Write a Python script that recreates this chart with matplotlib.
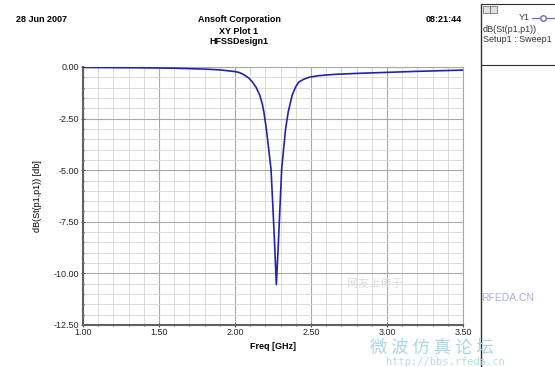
import matplotlib
matplotlib.use("Agg")
import matplotlib.pyplot as plt
from matplotlib.ticker import MultipleLocator, FormatStrFormatter
from matplotlib.lines import Line2D
from matplotlib.patches import Rectangle

plt.rcParams['font.family'] = ['Liberation Sans', 'Noto Sans CJK SC', 'DejaVu Sans']

freq_ghz = [1.00, 1.20, 1.40, 1.60, 1.80, 1.90, 1.95, 2.00, 2.03, 2.06, 2.09,
            2.115, 2.14, 2.163, 2.18, 2.19, 2.206, 2.219, 2.237, 2.25, 2.262,
            2.272, 2.285, 2.297, 2.307, 2.322, 2.333, 2.35, 2.376, 2.40, 2.42,
            2.45, 2.486, 2.55, 2.65, 2.80, 3.00, 3.20, 3.50]
s11_db = [-0.02, -0.03, -0.04, -0.06, -0.10, -0.14, -0.18, -0.22, -0.27, -0.38, -0.53,
          -0.73, -1.00, -1.37, -1.80, -2.18, -2.99, -3.80, -4.95, -6.90, -8.80,
          -10.55, -8.60, -6.60, -4.95, -3.80, -3.00, -2.18, -1.37, -0.95, -0.73,
          -0.60, -0.50, -0.42, -0.36, -0.31, -0.26, -0.21, -0.15]

x_range = (1.0, 3.5)
y_range = (-12.5, 0.0)

fig = plt.figure(figsize=(5.55, 3.67), dpi=100)
W, H = 555, 367
ax = fig.add_axes([83 / W, 1 - 325 / H, 380 / W, 258 / H])

ax.plot(freq_ghz, s11_db, color='#2222b0', lw=1.2, zorder=3)
ax.set_xlim(*x_range)
ax.set_ylim(*y_range)

ax.xaxis.set_major_locator(MultipleLocator(0.5))
ax.xaxis.set_minor_locator(MultipleLocator(0.1))
ax.yaxis.set_major_locator(MultipleLocator(2.5))
ax.yaxis.set_minor_locator(MultipleLocator(0.5))
ax.xaxis.set_major_formatter(FormatStrFormatter('%.2f'))
ax.yaxis.set_major_formatter(FormatStrFormatter('%.2f'))

ax.grid(which='major', color='#a8a8a8', lw=0.8, zorder=1)
ax.grid(which='minor', color='#d6d6d6', lw=0.6, zorder=0)
ax.set_axisbelow(True)

ax.tick_params(which='both', direction='inout', colors='#555555', labelcolor='#222222',
               labelsize=6.5, length=3, width=0.8, pad=1)
ax.tick_params(which='minor', length=2)
for side in ['left', 'bottom']:
    ax.spines[side].set_color('#606060')
    ax.spines[side].set_linewidth(1.5)
for side in ['top', 'right']:
    ax.spines[side].set_color('#a8a8a8')
    ax.spines[side].set_linewidth(0.8)

ax.set_xlabel('Freq [GHz]', fontsize=6.5, fontweight='bold', labelpad=3)
ax.set_ylabel('dB(St(p1,p1)) [db]', fontsize=6.5, labelpad=9)

# Header texts
fig.text(16 / W, 1 - 20 / H, '28 Jun 2007', fontsize=6.5, fontweight='bold', va='center', ha='left')
fig.text(239 / W, 1 - 20 / H, 'Ansoft Corporation', fontsize=6.5, fontweight='bold', va='center', ha='center')
fig.text(239 / W, 1 - 31 / H, 'XY Plot 1', fontsize=6.5, fontweight='bold', va='center', ha='center')
fig.text(239 / W, 1 - 42 / H, 'HFSSDesign1', fontsize=6.5, fontweight='bold', va='center', ha='center')
fig.text(462 / W, 1 - 20 / H, '08:21:44', fontsize=6.5, fontweight='bold', va='center', ha='right')

# Right legend panel
fig.add_artist(Line2D([481 / W, 481 / W], [0, 1 - 4 / H], transform=fig.transFigure, color='#303030', lw=1.0))
fig.add_artist(Line2D([481 / W, 1], [1 - 4 / H, 1 - 4 / H], transform=fig.transFigure, color='#303030', lw=0.8))
fig.add_artist(Line2D([481 / W, 1], [1 - 65 / H, 1 - 65 / H], transform=fig.transFigure, color='#303030', lw=0.8))
for bx in (483, 490):
    fig.add_artist(Rectangle((bx / W, 1 - 13 / H), 7 / W, 7 / H, transform=fig.transFigure,
                             facecolor='#e0e0e0', edgecolor='#606060', lw=0.5))
fig.text(530 / W, 1 - 18 / H, 'Y1', fontsize=6.5, va='center', ha='right', color='#333333')
fig.add_artist(Line2D([532 / W, 555 / W], [1 - 18 / H, 1 - 18 / H], transform=fig.transFigure,
                      color='#6a6ac0', lw=0.9))
fig.add_artist(Line2D([543 / W], [1 - 18 / H], transform=fig.transFigure, color='#6a6ac0',
                      marker='o', markersize=4, markerfacecolor='white', lw=0))
fig.text(483 / W, 1 - 29 / H, 'dB(St(p1,p1))', fontsize=6.5, va='center', ha='left', color='#333333')
fig.text(483 / W, 1 - 40 / H, 'Setup1 : Sweep1', fontsize=6.5, va='center', ha='left', color='#333333')

# Watermark
fig.text(375 / W, 1 - 284 / H, '网友上传于', fontsize=8, color='#dcdcdc', va='center', ha='center',
         family=['Noto Sans CJK SC', 'DejaVu Sans'])
fig.text(508 / W, 1 - 298 / H, 'RFEDA.CN', fontsize=7.5, color='#a9aedb', va='center', ha='center')
fig.text(432 / W, 1 - 348 / H, '微 波 仿 真 论 坛', fontsize=12.5, color='#a6d6e8', va='center', ha='center',
         family=['Noto Sans CJK SC', 'DejaVu Sans'], style='italic')
fig.text(445 / W, 1 - 362 / H, 'http://bbs.rfeda.cn', fontsize=7.5, color='#b5dde8', va='center', ha='center',
         family=['DejaVu Sans Mono'])

fig.savefig('out.png', dpi=100)
